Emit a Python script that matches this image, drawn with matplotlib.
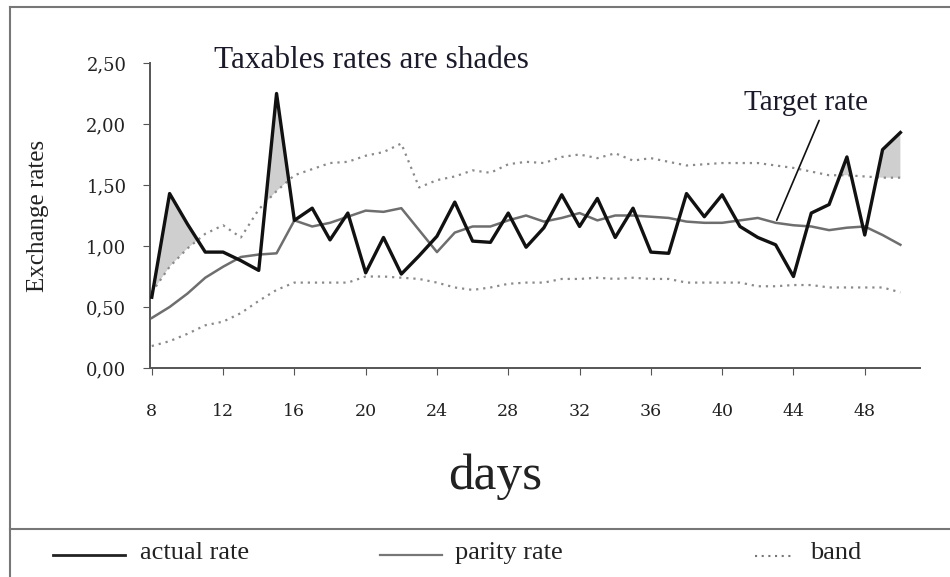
import matplotlib
matplotlib.use("Agg")
import matplotlib.pyplot as plt
from matplotlib.lines import Line2D
import numpy as np

days = list(range(8, 51))
actual_rate = [0.58, 1.43, 1.18, 0.95, 0.95, 0.88, 0.80, 2.25, 1.21, 1.31,
               1.05, 1.27, 0.78, 1.07, 0.77, 0.92, 1.08, 1.36, 1.04, 1.03,
               1.27, 0.99, 1.15, 1.42, 1.16, 1.39, 1.07, 1.31, 0.95, 0.94,
               1.43, 1.24, 1.42, 1.16, 1.07, 1.01, 0.75, 1.27, 1.34, 1.73,
               1.09, 1.79, 1.93]
parity_rate = [0.41, 0.50, 0.61, 0.74, 0.83, 0.91, 0.93, 0.94, 1.21, 1.16,
               1.19, 1.24, 1.29, 1.28, 1.31, 1.13, 0.95, 1.11, 1.16, 1.16,
               1.21, 1.25, 1.20, 1.23, 1.27, 1.21, 1.25, 1.25, 1.24, 1.23,
               1.20, 1.19, 1.19, 1.21, 1.23, 1.19, 1.17, 1.16, 1.13, 1.15,
               1.16, 1.09, 1.01]
band_upper = [0.62, 0.83, 0.98, 1.10, 1.17, 1.07, 1.30, 1.45, 1.58, 1.63,
              1.68, 1.69, 1.74, 1.77, 1.84, 1.48, 1.54, 1.57, 1.62, 1.60,
              1.67, 1.69, 1.68, 1.73, 1.75, 1.72, 1.76, 1.70, 1.72, 1.69,
              1.66, 1.67, 1.68, 1.68, 1.68, 1.66, 1.64, 1.61, 1.58, 1.58,
              1.57, 1.56, 1.56]
band_lower = [0.18, 0.22, 0.28, 0.35, 0.38, 0.45, 0.55, 0.64, 0.70, 0.70,
              0.70, 0.70, 0.75, 0.75, 0.74, 0.73, 0.70, 0.66, 0.64, 0.66,
              0.69, 0.70, 0.70, 0.73, 0.73, 0.74, 0.73, 0.74, 0.73, 0.73,
              0.70, 0.70, 0.70, 0.70, 0.67, 0.67, 0.68, 0.68, 0.66, 0.66,
              0.66, 0.66, 0.62]
x_ticks = [8, 12, 16, 20, 24, 28, 32, 36, 40, 44, 48]
y_ticks = [0.0, 0.5, 1.0, 1.5, 2.0, 2.5]
y_tick_labels = ["0,00", "0,50", "1,00", "1,50", "2,00", "2,50"]

serif = ["Liberation Serif", "DejaVu Serif"]
tickfont = ["DejaVu Serif"]

fig = plt.figure(figsize=(9.5, 5.77), dpi=100)
W, H = 950, 577
ax = fig.add_axes([150 / W, 1 - 368 / H, (920 - 150) / W, (368 - 63) / H])

d = np.array(days)
a = np.array(actual_rate)
u = np.array(band_upper)

ax.fill_between(d, u, a, where=a > u, interpolate=True, color="#cfcfcf", lw=0, zorder=1)
ax.plot(d, band_upper, color="#8a8a8a", lw=1.6, ls=(0, (1, 2.2)), zorder=2)
ax.plot(d, band_lower, color="#8a8a8a", lw=1.6, ls=(0, (1, 2.2)), zorder=2)
ax.plot(d, parity_rate, color="#6e6e6e", lw=1.8, zorder=3)
ax.plot(d, actual_rate, color="#111111", lw=2.4, zorder=4)

ax.set_xlim(7.9, 51.1)
ax.set_ylim(0, 2.5)
ax.set_xticks(x_ticks)
ax.set_xticklabels([str(t) for t in x_ticks], family=tickfont, fontsize=12.5, color="#222")
ax.set_yticks(y_ticks)
ax.set_yticklabels(y_tick_labels, family=tickfont, fontsize=13, color="#222")
ax.tick_params(axis="x", length=5, pad=20, color="#555")
ax.tick_params(axis="y", length=5, pad=12, color="#555")
for s in ("top", "right"):
    ax.spines[s].set_visible(False)
for s in ("left", "bottom"):
    ax.spines[s].set_color("#555")
    ax.spines[s].set_linewidth(1.4)

ax.set_ylabel("Exchange rates", family=serif, fontsize=18, color="#222")
ax.yaxis.set_label_coords((49 - 150) / 770, 0.5)

fig.text(495 / W, 1 - 477 / H, "days", family=serif, fontsize=37,
         ha="center", va="center", color="#222")

ax.text(20.3, 2.52, "Taxables rates are shades", family=serif, fontsize=22.5,
        ha="center", va="center", color="#1a1a2a", clip_on=False)
ax.annotate("", xy=(43, 1.19), xytext=(45.5, 2.05),
            arrowprops=dict(arrowstyle="-", color="#111", lw=1.2))
ax.text(44.7, 2.17, "Target rate", family=serif, fontsize=21,
        ha="center", va="center", color="#1a1a2a")

# frame
def px_line(x0, y0, x1, y1, **kw):
    fig.add_artist(Line2D([x0 / W, x1 / W], [1 - y0 / H, 1 - y1 / H],
                          transform=fig.transFigure, **kw))

px_line(10, 7, 950, 7, color="#777", lw=1.5)
px_line(10, 7, 10, 577, color="#777", lw=1.5)
px_line(10, 529, 950, 529, color="#777", lw=1.5)

# legend
px_line(53, 555, 125, 555, color="#222", lw=2.0)
fig.text(140 / W, 1 - 553 / H, "actual rate", family=serif, fontsize=19,
         va="center", ha="left", color="#222")
px_line(380, 555, 442, 555, color="#777", lw=1.6)
fig.text(455 / W, 1 - 553 / H, "parity rate", family=serif, fontsize=19,
         va="center", ha="left", color="#222")
px_line(755, 556, 792, 556, color="#777", lw=1.5, ls=(0, (1, 2.2)))
fig.text(810 / W, 1 - 553 / H, "band", family=serif, fontsize=19,
         va="center", ha="left", color="#222")

fig.savefig("out.png", dpi=100)
